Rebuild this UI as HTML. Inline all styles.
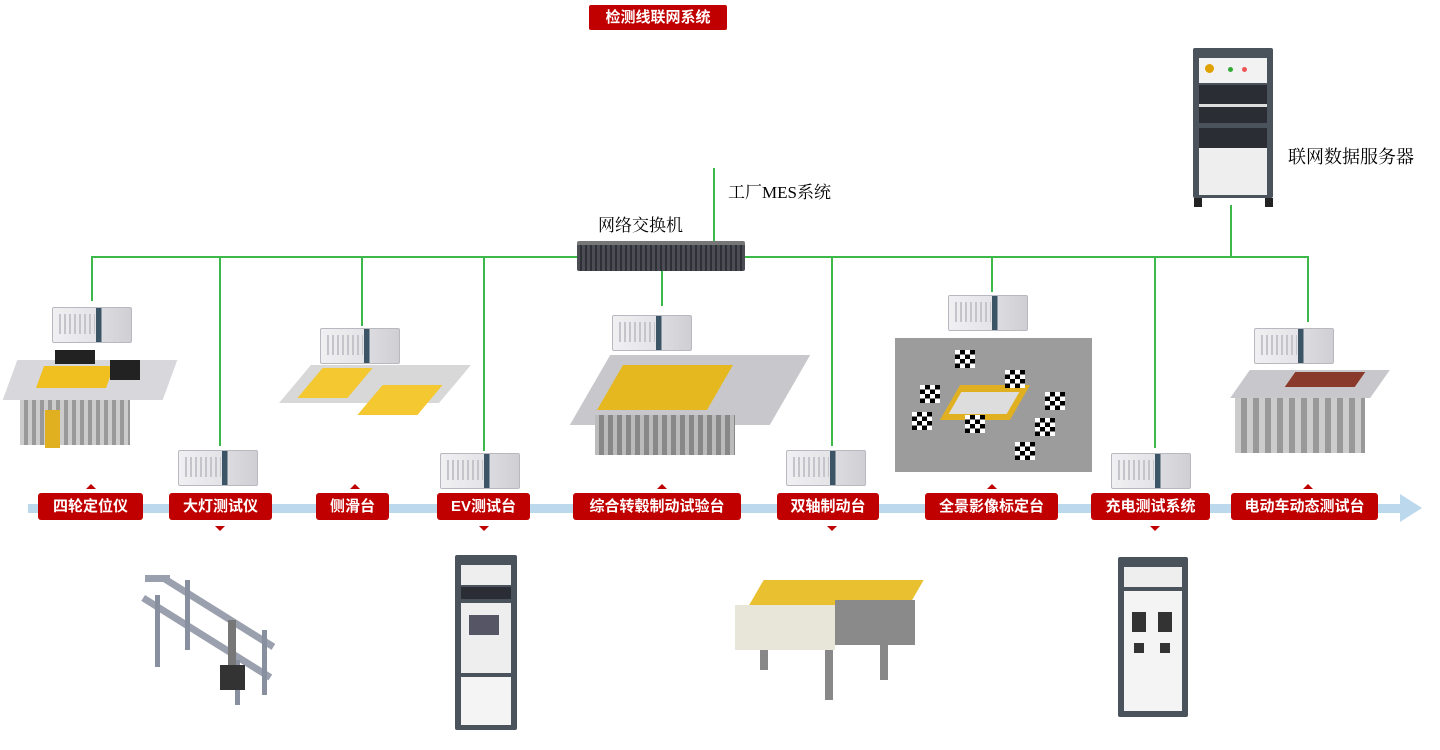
<!DOCTYPE html>
<html><head><meta charset="utf-8"><style>
*{margin:0;padding:0;box-sizing:border-box}
body{width:1440px;height:750px;background:#fff;position:relative;overflow:hidden;font-family:"Liberation Sans","Noto Sans CJK SC",sans-serif}
.a{position:absolute}
.g{position:absolute;background:#3cb94a}
.lab{position:absolute;top:493px;height:27px;background:#c00000;color:#fff;font-weight:bold;font-size:15px;line-height:27px;text-align:center;border-radius:3px;font-family:"Liberation Sans","Noto Sans CJK SC",sans-serif}
.up{position:absolute;top:484px;width:0;height:0;border-left:5px solid transparent;border-right:5px solid transparent;border-bottom:5px solid #c00000}
.dn{position:absolute;top:526px;width:0;height:0;border-left:5px solid transparent;border-right:5px solid transparent;border-top:5px solid #c00000}
.ipc{position:absolute;width:80px;height:36px;background:linear-gradient(90deg,#f0f0f2 0,#e4e4e8 55%,#3b5566 55%,#3b5566 62%,#dcdce0 62%,#cfcfd4 100%);border:1px solid #b8b8c0;border-radius:2px}
.ipc:before{content:"";position:absolute;left:6px;top:6px;width:36px;height:20px;background:repeating-linear-gradient(90deg,#c4c4ca 0,#c4c4ca 2px,transparent 2px,transparent 5px)}
.cab{position:absolute;background:#4a525c;border-radius:2px}
.cab .p{position:absolute;left:6px;right:6px;background:#eeeeef}
.cab .d{position:absolute;left:6px;right:6px;background:#2a2d33}
.t{position:absolute;font-family:"Liberation Serif","Noto Serif CJK SC",serif;font-size:17px;color:#000}
.chk{position:absolute;width:20px;height:18px;background:repeating-conic-gradient(#000 0 25%,#fff 0 50%) 0 0/10px 9px}
</style></head><body>
<div class="a" style="left:589px;top:5px;width:138px;height:25px;background:#c00000;color:#fff;font-weight:bold;font-size:15px;line-height:25px;text-align:center;border-radius:2px">检测线联网系统</div>

<div class="g" style="left:91px;top:256px;width:1218px;height:2px"></div>
<div class="g" style="left:91px;top:256px;width:2px;height:45px"></div>
<div class="g" style="left:219px;top:256px;width:2px;height:190px"></div>
<div class="g" style="left:361px;top:256px;width:2px;height:70px"></div>
<div class="g" style="left:483px;top:256px;width:2px;height:195px"></div>
<div class="g" style="left:661px;top:270px;width:2px;height:36px"></div>
<div class="g" style="left:831px;top:256px;width:2px;height:190px"></div>
<div class="g" style="left:991px;top:256px;width:2px;height:36px"></div>
<div class="g" style="left:1154px;top:256px;width:2px;height:192px"></div>
<div class="g" style="left:1307px;top:256px;width:2px;height:66px"></div>
<div class="g" style="left:1230px;top:205px;width:2px;height:52px"></div>
<div class="g" style="left:713px;top:168px;width:2px;height:75px"></div>

<div class="t" style="left:728px;top:178px">工厂MES系统</div>
<div class="t" style="left:598px;top:211px">网络交换机</div>
<div class="t" style="left:1288px;top:143px;font-size:18px">联网数据服务器</div>

<div class="a" style="left:577px;top:241px;width:168px;height:30px;background:repeating-linear-gradient(90deg,#4a4d54 0,#4a4d54 3px,#2e3036 3px,#2e3036 5px);border-top:4px solid #777;border-radius:2px"></div>

<div class="cab" style="left:1193px;top:48px;width:80px;height:150px">
 <div class="p" style="top:10px;height:25px;background:#f2f2f2"></div>
 <div class="a" style="left:12px;top:16px;width:9px;height:9px;background:#e0a000;border-radius:50%"></div>
 <div class="a" style="left:35px;top:19px;width:5px;height:5px;background:#3a3;border-radius:50%"></div>
 <div class="a" style="left:49px;top:19px;width:5px;height:5px;background:#e55;border-radius:50%"></div>
 <div class="d" style="top:37px;height:38px"></div>
 <div class="p" style="top:56px;height:3px;background:#ddd"></div>
 <div class="d" style="top:80px;height:20px"></div>
 <div class="p" style="top:100px;height:47px"></div>
</div>
<div class="a" style="left:1194px;top:198px;width:8px;height:9px;background:#222"></div>
<div class="a" style="left:1265px;top:198px;width:8px;height:9px;background:#222"></div>

<div class="a" style="left:28px;top:504px;width:1380px;height:9px;background:#bcd8ec"></div>
<div class="a" style="left:1400px;top:494px;width:0;height:0;border-top:14px solid transparent;border-bottom:14px solid transparent;border-left:22px solid #bcd8ec"></div>

<div class="lab" style="left:38px;width:105px">四轮定位仪</div>
<div class="lab" style="left:169px;width:103px">大灯测试仪</div>
<div class="lab" style="left:316px;width:73px">侧滑台</div>
<div class="lab" style="left:437px;width:93px">EV测试台</div>
<div class="lab" style="left:573px;width:168px">综合转毂制动试验台</div>
<div class="lab" style="left:777px;width:102px">双轴制动台</div>
<div class="lab" style="left:925px;width:133px">全景影像标定台</div>
<div class="lab" style="left:1091px;width:119px">充电测试系统</div>
<div class="lab" style="left:1231px;width:147px">电动车动态测试台</div>

<div class="up" style="left:86px"></div>
<div class="dn" style="left:215px"></div>
<div class="up" style="left:350px"></div>
<div class="dn" style="left:479px"></div>
<div class="up" style="left:657px"></div>
<div class="dn" style="left:827px"></div>
<div class="up" style="left:987px"></div>
<div class="dn" style="left:1150px"></div>
<div class="up" style="left:1303px"></div>

<div class="ipc" style="left:52px;top:307px"></div>
<div class="ipc" style="left:178px;top:450px"></div>
<div class="ipc" style="left:320px;top:328px"></div>
<div class="ipc" style="left:440px;top:453px"></div>
<div class="ipc" style="left:612px;top:315px"></div>
<div class="ipc" style="left:786px;top:450px"></div>
<div class="ipc" style="left:948px;top:295px"></div>
<div class="ipc" style="left:1111px;top:453px"></div>
<div class="ipc" style="left:1254px;top:328px"></div>

<div class="a" style="left:10px;top:360px;width:160px;height:40px;background:#d8d8dc;transform:skewX(-20deg)"></div>
<div class="a" style="left:40px;top:366px;width:70px;height:22px;background:#f0c020;transform:skewX(-20deg)"></div>
<div class="a" style="left:55px;top:350px;width:40px;height:14px;background:#222"></div>
<div class="a" style="left:110px;top:360px;width:30px;height:20px;background:#222"></div>
<div class="a" style="left:20px;top:400px;width:110px;height:45px;background:repeating-linear-gradient(90deg,#ccc 0,#ccc 4px,#999 4px,#999 8px)"></div>
<div class="a" style="left:45px;top:410px;width:15px;height:38px;background:#e0b020"></div>

<div class="a" style="left:295px;top:365px;width:160px;height:38px;background:#d8d8d8;transform:skewX(-40deg)"></div>
<div class="a" style="left:310px;top:368px;width:50px;height:30px;background:#f3c830;transform:skewX(-40deg)"></div>
<div class="a" style="left:370px;top:385px;width:60px;height:30px;background:#f3c830;transform:skewX(-40deg)"></div>

<div class="a" style="left:590px;top:355px;width:200px;height:70px;background:#c8c8cc;transform:skewX(-30deg)"></div>
<div class="a" style="left:610px;top:365px;width:110px;height:45px;background:#e6b820;transform:skewX(-30deg)"></div>
<div class="a" style="left:595px;top:415px;width:140px;height:40px;background:repeating-linear-gradient(90deg,#bbb 0,#bbb 4px,#888 4px,#888 9px)"></div>

<div class="a" style="left:895px;top:338px;width:197px;height:134px;background:#9c9c9c"></div>
<div class="a" style="left:950px;top:385px;width:70px;height:35px;background:#e0b020;transform:skewX(-30deg)"></div>
<div class="a" style="left:955px;top:392px;width:58px;height:22px;background:#ddd;transform:skewX(-30deg)"></div>
<div class="chk" style="left:920px;top:385px"></div>
<div class="chk" style="left:955px;top:350px"></div>
<div class="chk" style="left:1005px;top:370px"></div>
<div class="chk" style="left:1045px;top:392px"></div>
<div class="chk" style="left:965px;top:415px"></div>
<div class="chk" style="left:1035px;top:418px"></div>
<div class="chk" style="left:1015px;top:442px"></div>
<div class="chk" style="left:912px;top:412px"></div>

<div class="a" style="left:1240px;top:370px;width:140px;height:28px;background:#c8c8cc;transform:skewX(-35deg)"></div>
<div class="a" style="left:1290px;top:372px;width:70px;height:15px;background:#8a3a2a;transform:skewX(-35deg)"></div>
<div class="a" style="left:1235px;top:398px;width:130px;height:55px;background:repeating-linear-gradient(90deg,#ccc 0,#ccc 6px,#999 6px,#999 12px)"></div>

<!-- gantry -->
<div class="a" style="left:145px;top:595px;width:150px;height:7px;background:#9aa0ad;transform:rotate(32deg);transform-origin:0 0"></div>
<div class="a" style="left:165px;top:575px;width:130px;height:7px;background:#9aa0ad;transform:rotate(32deg);transform-origin:0 0"></div>
<div class="a" style="left:145px;top:575px;width:25px;height:7px;background:#9aa0ad"></div>
<div class="a" style="left:155px;top:595px;width:5px;height:72px;background:#8890a0"></div>
<div class="a" style="left:185px;top:580px;width:5px;height:70px;background:#8890a0"></div>
<div class="a" style="left:235px;top:660px;width:5px;height:45px;background:#8890a0"></div>
<div class="a" style="left:262px;top:630px;width:5px;height:65px;background:#8890a0"></div>
<div class="a" style="left:228px;top:620px;width:8px;height:45px;background:#777"></div>
<div class="a" style="left:220px;top:665px;width:25px;height:25px;background:#333"></div>

<div class="cab" style="left:455px;top:555px;width:62px;height:175px">
 <div class="p" style="top:10px;height:20px"></div>
 <div class="d" style="top:32px;height:12px"></div>
 <div class="p" style="top:48px;height:70px"></div>
 <div class="a" style="left:14px;top:60px;width:30px;height:20px;background:#556"></div>
 <div class="p" style="top:122px;height:48px;background:#f4f4f4"></div>
</div>

<div class="a" style="left:755px;top:580px;width:160px;height:30px;background:#e8c030;transform:skewX(-30deg)"></div>
<div class="a" style="left:735px;top:605px;width:100px;height:45px;background:#e8e6d8"></div>
<div class="a" style="left:835px;top:600px;width:80px;height:45px;background:#8a8a8a"></div>
<div class="a" style="left:760px;top:650px;width:8px;height:20px;background:#888"></div>
<div class="a" style="left:825px;top:650px;width:8px;height:50px;background:#888"></div>
<div class="a" style="left:880px;top:640px;width:8px;height:40px;background:#888"></div>

<div class="cab" style="left:1118px;top:557px;width:70px;height:160px">
 <div class="p" style="top:10px;height:20px"></div>
 <div class="p" style="top:34px;height:120px;background:#f4f4f4"></div>
 <div class="a" style="left:14px;top:55px;width:14px;height:20px;background:#333"></div>
 <div class="a" style="left:40px;top:55px;width:14px;height:20px;background:#333"></div>
 <div class="a" style="left:16px;top:86px;width:10px;height:10px;background:#333"></div>
 <div class="a" style="left:42px;top:86px;width:10px;height:10px;background:#333"></div>
</div>
</body></html>
